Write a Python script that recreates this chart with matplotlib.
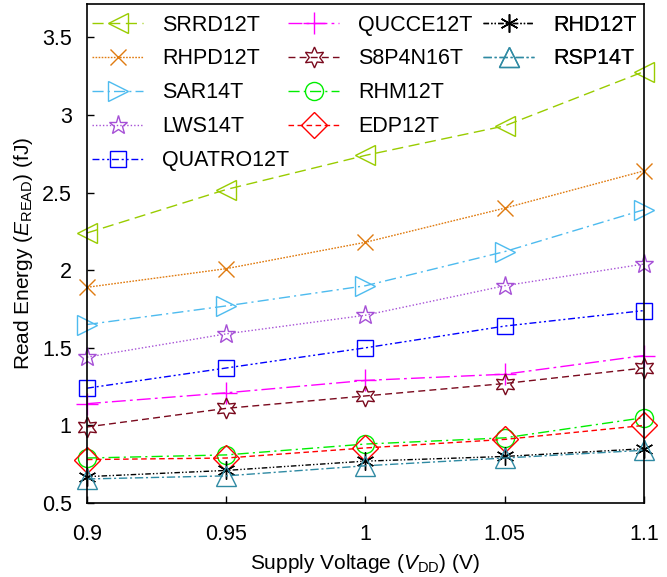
import numpy as np
import matplotlib
matplotlib.use('Agg')
import matplotlib.pyplot as plt

plt.rcParams['font.family'] = ['Liberation Sans', 'DejaVu Sans']
plt.rcParams['mathtext.fontset'] = 'custom'
plt.rcParams['mathtext.rm'] = 'Liberation Sans'
plt.rcParams['mathtext.it'] = 'Liberation Sans:italic'

vdd = [0.9, 0.95, 1.0, 1.05, 1.1]

names = ['SRRD12T', 'RHPD12T', 'SAR14T', 'LWS14T', 'QUATRO12T',
         'QUCCE12T', 'S8P4N16T', 'RHM12T', 'EDP12T', 'RHD12T', 'RSP14T']

srrd12t = [2.24, 2.52, 2.74, 2.93, 3.28]
rhpd12t = [1.89, 2.01, 2.18, 2.40, 2.64]
sar14t = [1.65, 1.77, 1.90, 2.12, 2.39]
lws14t = [1.44, 1.59, 1.71, 1.90, 2.04]
quatro12t = [1.24, 1.37, 1.50, 1.64, 1.74]
qucce12t = [1.14, 1.21, 1.29, 1.33, 1.45]
s8p4n16t = [0.99, 1.11, 1.19, 1.27, 1.37]
rhm12t = [0.79, 0.81, 0.88, 0.92, 1.05]
edp12t = [0.78, 0.79, 0.855, 0.91, 1.00]
rhd12t = [0.67, 0.71, 0.77, 0.80, 0.85]
rsp14t = [0.655, 0.675, 0.74, 0.79, 0.84]

series = [srrd12t, rhpd12t, sar14t, lws14t, quatro12t,
          qucce12t, s8p4n16t, rhm12t, edp12t, rhd12t, rsp14t]

colors = ['#99cc00', '#e07b10', '#4dbbef', '#a650d6', '#0000ff',
          '#ff00ff', '#7a0a1e', '#00ee00', '#ff0000', '#000000', '#2f8aa3']
markers = ['<', 'x', '>', '*', 's', '+', (6, 1, 0), 'o', 'D', (6, 2, 0), '^']
msizes = [15, 12, 15, 14, 11, 16, 15, 13, 13, 13, 15]
styles = [(0, (8, 4)), (0, (1.2, 1)), (0, (8, 3, 1.5, 3)), (0, (1, 1.5)),
          (0, (5, 2, 1.5, 2, 1.5, 2)), (0, (10, 3, 2, 3)), (0, (5, 3)),
          (0, (8, 3, 1.5, 3)), (0, (4, 2.5)), (0, (4, 1.5, 1, 1.5, 1, 1.5)),
          (0, (6, 2, 1.5, 2))]

fig = plt.figure(figsize=(6.67, 5.77), dpi=100)
ax = fig.add_axes([0.1304, 0.1282, 0.8351, 0.8648])

handles = []
for i in range(len(names)):
    h, = ax.plot(vdd, series[i], color=colors[i], linestyle=styles[i], lw=1.0,
                 marker=markers[i], markersize=msizes[i], markerfacecolor='none',
                 markeredgecolor=colors[i], markeredgewidth=1.0, label=names[i],
                 clip_on=False)
    handles.append(h)

# three legend columns placed by hand, like the MATLAB layout
cols = [(0, 5, 0.009), (5, 9, 0.361), (9, 11, 0.711)]
for a, b, x0 in cols:
    leg = ax.legend(handles[a:b], names[a:b], loc='upper left', frameon=False,
                    fontsize=15.5, handlelength=2.37, handletextpad=0.88,
                    labelspacing=0.6, borderpad=0, borderaxespad=0,
                    bbox_to_anchor=(x0, 0.979))
    ax.add_artist(leg)

ax.set_xlim(0.9, 1.1)
ax.set_ylim(0.5, 3.715)
ax.set_xticks(vdd)
ax.set_xticklabels(['0.9', '0.95', '1', '1.05', '1.1'])
ax.set_yticks([0.5, 1, 1.5, 2, 2.5, 3, 3.5])
ax.set_yticklabels(['0.5', '1', '1.5', '2', '2.5', '3', '3.5'])
ax.tick_params(direction='in', labelsize=15.5, length=5, width=1,
               top=False, right=False, pad=11)
ax.tick_params(axis='x', pad=15)
for s in ax.spines.values():
    s.set_linewidth(1.2)

ax.set_xlabel(r'Supply Voltage ($V_{\mathrm{DD}}$) (V)', fontsize=15, labelpad=5)
ax.set_ylabel(r'Read Energy ($E_{\mathrm{READ}}$) (fJ)', fontsize=15, labelpad=5)

fig.savefig('out.png', dpi=100)
